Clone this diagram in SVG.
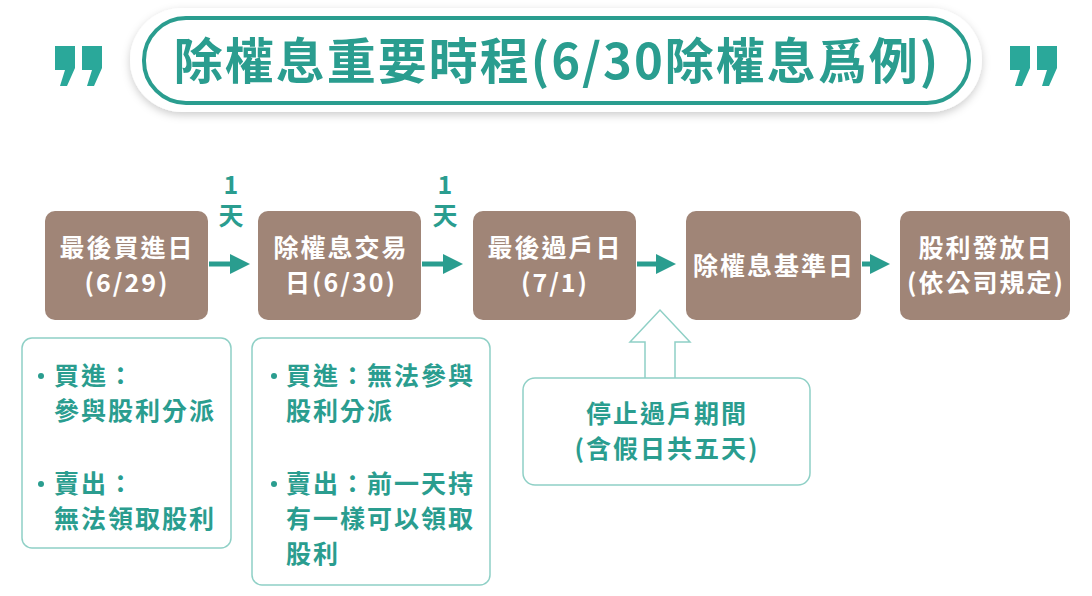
<svg xmlns="http://www.w3.org/2000/svg" width="1092" height="596" viewBox="0 0 1092 596">
<defs>
<style>
.t{font-family:"Noto Sans CJK TC","Noto Sans",sans-serif;font-weight:700}
.nd{fill:#a08577}
.nt{fill:#fff;font-size:25px;text-anchor:middle;letter-spacing:2px}
.tl{fill:#2a9d8f;font-size:25px;letter-spacing:2px}
.box{fill:#fff;stroke:#8fd0c6;stroke-width:1.5}
.ar{stroke:#2a9d8f;stroke-width:5;fill:none}
</style>
<marker id="ah" markerWidth="4" markerHeight="4" refX="2" refY="2" orient="auto" markerUnits="strokeWidth"><path d="M0,0L4,2L0,4z" fill="#2a9d8f"/></marker>
<filter id="sh" x="-5%" y="-20%" width="110%" height="150%"><feDropShadow dx="0" dy="3" stdDeviation="4" flood-color="#000" flood-opacity="0.2"/></filter>
</defs>
<rect width="1092" height="596" fill="#fff"/>
<g id="title">
<rect x="130" y="8" width="852" height="104" rx="52" fill="#fff" filter="url(#sh)"/>
<rect x="144" y="18" width="825" height="85" rx="42" fill="#fff" stroke="#2a9d8f" stroke-width="4"/>
<text x="557" y="79" class="t" font-size="49" fill="#2a9d8f" text-anchor="middle" letter-spacing="2">除權息重要時程(6/30除權息爲例)</text>
<path d="M55,46h20v22l-8,18h-7l5,-16h-10z M82,46h20v22l-8,18h-7l5,-16h-10z" fill="#2aa89a"/>
<path d="M1010,46h20v22l-8,18h-7l5,-16h-10z M1037,46h20v22l-8,18h-7l5,-16h-10z" fill="#2aa89a"/>
</g>
<g id="connectors">
<line x1="209" y1="264" x2="240" y2="264" class="ar" marker-end="url(#ah)"/>
<line x1="422" y1="264" x2="453" y2="264" class="ar" marker-end="url(#ah)"/>
<line x1="637" y1="264" x2="666" y2="264" class="ar" marker-end="url(#ah)"/>
<line x1="862" y1="264" x2="880" y2="264" class="ar" marker-end="url(#ah)"/>
<path d="M645,378V342H630L660,310L690,342H675V378" fill="#fff" stroke="#8fd0c6" stroke-width="1.5"/>
<text x="232" y="194" class="t tl" text-anchor="middle" letter-spacing="0">1</text>
<text x="232" y="225" class="t tl" text-anchor="middle" letter-spacing="0">天</text>
<text x="446" y="194" class="t tl" text-anchor="middle" letter-spacing="0">1</text>
<text x="446" y="225" class="t tl" text-anchor="middle" letter-spacing="0">天</text>
</g>
<g id="n1"><rect x="45" y="211" width="163" height="109" rx="10" class="nd"/><text class="t nt" x="127" y="257">最後買進日</text><text class="t nt" x="127" y="292">(6/29)</text></g>
<g id="n2"><rect x="258" y="211" width="163" height="109" rx="10" class="nd"/><text class="t nt" x="341" y="257">除權息交易</text><text class="t nt" x="341" y="292">日(6/30)</text></g>
<g id="n3"><rect x="473" y="211" width="163" height="109" rx="10" class="nd"/><text class="t nt" x="555" y="257">最後過戶日</text><text class="t nt" x="555" y="292">(7/1)</text></g>
<g id="n4"><rect x="686" y="211" width="175" height="109" rx="10" class="nd"/><text class="t nt" x="774" y="275">除權息基準日</text></g>
<g id="n5"><rect x="900" y="211" width="170" height="109" rx="10" class="nd"/><text class="t nt" x="986" y="257">股利發放日</text><text class="t nt" x="986" y="292">(依公司規定)</text></g>
<g id="note1"><rect x="22" y="338" width="209" height="210" rx="10" class="box"/>
<circle cx="41" cy="376" r="3" fill="#2a9d8f"/><circle cx="41" cy="484" r="3" fill="#2a9d8f"/>
<text class="t tl" x="54" y="385">買進：</text><text class="t tl" x="54" y="420">參與股利分派</text>
<text class="t tl" x="54" y="493">賣出：</text><text class="t tl" x="54" y="528">無法領取股利</text></g>
<g id="note2"><rect x="252" y="338" width="238" height="247" rx="10" class="box"/>
<circle cx="274" cy="376" r="3" fill="#2a9d8f"/><circle cx="274" cy="484" r="3" fill="#2a9d8f"/>
<text class="t tl" x="286" y="385">買進：無法參與</text><text class="t tl" x="286" y="420">股利分派</text>
<text class="t tl" x="286" y="493">賣出：前一天持</text><text class="t tl" x="286" y="528">有一樣可以領取</text><text class="t tl" x="286" y="563">股利</text></g>
<g id="note3"><rect x="523" y="378" width="287" height="107" rx="12" class="box"/>
<text class="t tl" x="667" y="423" text-anchor="middle">停止過戶期間</text><text class="t tl" x="667" y="458" text-anchor="middle">(含假日共五天)</text></g>
</svg>
